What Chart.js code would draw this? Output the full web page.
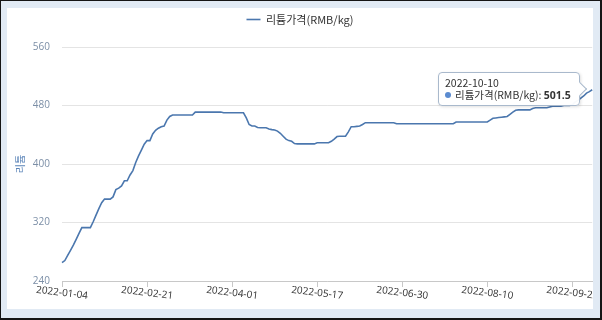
<!DOCTYPE html>
<html>
<head>
<meta charset="utf-8">
<script src="https://cdn.jsdelivr.net/npm/chart.js@4.4.0/dist/chart.umd.min.js"></script>
<style>
    html, body { margin: 0; padding: 0; background: #fff; }
    #frame {
        position: absolute; left: 0; top: 0;
        width: 602px; height: 320px; box-sizing: border-box;
        border-style: solid; border-color: #151515;
        border-width: 1px 2px 2px 1px;
        padding: 7px 7px 9px 6px;
        background: #e1eaf4;
    }
    #panel { position: relative; width: 586px; height: 301px; background: #fff; overflow: hidden; }
    #tip {
        position: absolute; display: none;
        background: rgba(255,255,255,0.96);
        border: 1px solid #a9b9cc; border-radius: 4px;
        box-shadow: 1px 1px 3px rgba(0,0,0,0.12);
        padding: 4px 8px 4px 6px;
        font: 10.5px 'Noto Sans CJK KR', 'Open Sans', sans-serif; line-height: 12px; color: #333;
        white-space: nowrap;
    }
    #tip::after {
        content: ''; position: absolute; right: -6px; top: 50%; margin-top: -5px;
        width: 9px; height: 9px; background: #fff;
        border-top: 1px solid #a9b9cc; border-right: 1px solid #a9b9cc;
        transform: rotate(45deg);
    }
    #tip .dot { display: inline-block; width: 6px; height: 6px; border-radius: 3px; background: #5b8bd0; margin-right: 4px; vertical-align: 1px; }
    #tip b { font-family: 'Open Sans', sans-serif; font-weight: bold; }
</style>
</head>
<body>
<div id="frame"><div id="panel"><canvas id="myChart" width="586" height="301"></canvas><div id="tip"></div></div></div>
<script>
// trading days (MM-DD), 2022
const dates = [
    '01-04','01-05','01-06','01-07','01-10','01-11','01-12','01-13','01-14','01-17',
    '01-18','01-19','01-20','01-21','01-24','01-25','01-26','01-27','01-28','01-29',
    '02-07','02-08','02-09','02-10','02-11','02-14','02-15','02-16','02-17','02-18',
    '02-21','02-22','02-23','02-24','02-25','02-28','03-01','03-02','03-03','03-04',
    '03-07','03-08','03-09','03-10','03-11','03-14','03-15','03-16','03-17','03-18',
    '03-21','03-22','03-23','03-24','03-25','03-26','03-28','03-29','03-30','03-31',
    '04-01','04-02','04-06','04-07','04-08','04-11','04-12','04-13','04-14','04-15',
    '04-18','04-19','04-20','04-21','04-22','04-24','04-25','04-26','04-27','04-28',
    '04-29','05-05','05-06','05-07','05-09','05-10','05-11','05-12','05-13','05-16',
    '05-17','05-18','05-19','05-20','05-23','05-24','05-25','05-26','05-27','05-30',
    '05-31','06-01','06-06','06-07','06-08','06-09','06-10','06-13','06-14','06-15',
    '06-16','06-17','06-20','06-21','06-22','06-23','06-24','06-27','06-28','06-29',
    '06-30','07-01','07-04','07-05','07-06','07-07','07-08','07-11','07-12','07-13',
    '07-14','07-15','07-18','07-19','07-20','07-21','07-22','07-25','07-26','07-27',
    '07-28','07-29','07-30','08-01','08-02','08-03','08-04','08-05','08-08','08-09',
    '08-10','08-11','08-12','08-15','08-16','08-17','08-18','08-19','08-22','08-23',
    '08-24','08-25','08-26','08-29','08-30','08-31','09-01','09-02','09-05','09-06',
    '09-07','09-08','09-09','09-13','09-14','09-15','09-16','09-19','09-20','09-21',
    '09-22','09-23','09-26','09-27','09-28','09-29','09-30','10-10'
];

// 리튬가격 (RMB/kg)
const prices = [
    265, 268, 275, 282, 289, 297, 305, 313, 313, 313,
    313, 321, 330, 339, 347, 352, 352, 352, 355, 365,
    367, 370, 377, 377, 385, 391, 402, 411, 419, 427,
    432, 432, 441, 446, 449, 451, 452, 460, 465, 467,
    467, 467, 467, 467, 467, 467, 467, 471, 471, 471,
    471, 471, 471, 471, 471, 471, 471, 470, 470, 470,
    470, 470, 470, 470, 470, 463, 454, 452, 452, 450,
    449.5, 449.5, 449.5, 448, 447, 446.5, 445, 442, 438, 434,
    432, 431, 428, 427.5, 427.5, 427.5, 427.5, 427.5, 427.5, 427.5,
    429, 429, 429, 429, 429, 431, 434, 437.5, 438, 438,
    438, 444, 451, 451, 451.5, 452, 454, 456.5, 456.5, 456.5,
    456.5, 456.5, 456.5, 456.5, 456.5, 456.5, 456.5, 456.5, 455, 455,
    455, 455, 455, 455, 455, 455, 455, 455, 455, 455,
    455, 455, 455, 455, 455, 455, 455, 455, 455, 457.5,
    457.5, 457.5, 457.5, 457.5, 457.5, 457.5, 457.5, 457.5, 457.5, 457.5,
    457.5, 460, 462.5, 463, 463.5, 464, 464.5, 465, 468, 471,
    473.5, 474, 474, 474, 474, 474, 476, 477, 477, 477,
    477, 477, 478, 479, 479, 479, 479, 480, 480, 480,
    481, 485, 487, 490, 493, 497, 499, 501.5
];

const yTicks = [240, 320, 400, 480, 560];
const labelEvery = 30;
const seriesName = '리튬가격(RMB/kg)';
const lineColor = '#4b77ae';

const labels = dates.map(d => '2022-' + d);

// rotated x labels, centred under every 30th point
const xLabels = {
    id: 'xLabels',
    afterDraw(chart) {
        const ctx = chart.ctx;
        const xs = chart.scales.x;
        const y = chart.chartArea.bottom + 12;
        ctx.save();
        ctx.font = "10px 'Open Sans', sans-serif";
        ctx.fillStyle = '#2e2e2e';
        ctx.textAlign = 'center';
        ctx.textBaseline = 'middle';
        for (let i = 0; i < labels.length; i += labelEvery) {
            ctx.save();
            ctx.translate(xs.getPixelForValue(i), y);
            ctx.rotate(7 * Math.PI / 180);
            ctx.fillText(labels[i], 0, 0);
            ctx.restore();
        }
        ctx.restore();
    }
};

// fixed legend band height
const legendBand = {
    id: 'legendBand',
    beforeInit(chart) {
        const fit = chart.legend.fit;
        chart.legend.fit = function () {
            fit.bind(chart.legend)();
            this.height = 39;
        };
    }
};

function showTip(context) {
    const tip = document.getElementById('tip');
    const model = context.tooltip;
    if (!model.dataPoints || !model.dataPoints.length) {
        tip.style.display = 'none';
        return;
    }
    const dp = model.dataPoints[0];
    tip.innerHTML = dp.label + '<br><span class="dot"></span>' + dp.dataset.label + ': <b>' + dp.raw + '</b>';
    tip.style.display = 'block';
    tip.style.left = (model.caretX - 13 - tip.offsetWidth) + 'px';
    tip.style.top = (model.caretY - tip.offsetHeight / 2 - 1) + 'px';
}

const config = {
    type: 'line',
    data: {
        labels: labels,
        datasets: [{
            label: seriesName,
            data: prices,
            borderColor: lineColor,
            backgroundColor: lineColor,
            borderWidth: 1.6,
            pointRadius: 0,
            pointHoverRadius: 0,
            tension: 0,
            fill: false
        }]
    },
    options: {
        responsive: false,
        animation: false,
        devicePixelRatio: 1,
        layout: { padding: 0 },
        interaction: { mode: 'index', intersect: false },
        plugins: {
            legend: {
                position: 'top',
                labels: {
                    usePointStyle: true,
                    pointStyle: 'line',
                    pointStyleWidth: 14,
                    boxHeight: 11,
                    padding: 6,
                    color: '#333',
                    font: { size: 11, family: "'Noto Sans CJK KR', 'Open Sans', sans-serif" }
                }
            },
            tooltip: { enabled: false, external: showTip }
        },
        scales: {
            x: {
                ticks: { display: false, autoSkip: false },
                grid: {
                    drawOnChartArea: false,
                    drawTicks: true,
                    tickLength: 6,
                    color: ctx => ctx.index % labelEvery === 0 ? '#c8c8c8' : 'rgba(0,0,0,0)'
                },
                border: { display: true, color: '#c8c8c8' },
                afterFit: s => { s.height = 28; }
            },
            y: {
                min: yTicks[0],
                max: yTicks[yTicks.length - 1],
                afterBuildTicks: s => { s.ticks = yTicks.map(v => ({ value: v })); },
                ticks: {
                    padding: 12,
                    color: '#7b8ea6',
                    font: { size: 10, family: "'Open Sans', sans-serif" }
                },
                grid: { color: '#e4e4e4', drawTicks: false },
                border: { display: false },
                title: {
                    display: true,
                    text: '리튬',
                    color: '#5b84b8',
                    padding: { top: 7, bottom: 0 },
                    font: { size: 10, family: "'Noto Sans CJK KR', sans-serif" }
                },
                afterFit: s => { s.width = 55; }
            }
        }
    },
    plugins: [xLabels, legendBand]
};

const myChart = new Chart(document.getElementById('myChart'), config);

// hover state of the reference: last point
const last = prices.length - 1;
myChart.setActiveElements([{ datasetIndex: 0, index: last }]);
myChart.tooltip.setActiveElements([{ datasetIndex: 0, index: last }], { x: 0, y: 0 });
myChart.update();
</script>
</body>
</html>
